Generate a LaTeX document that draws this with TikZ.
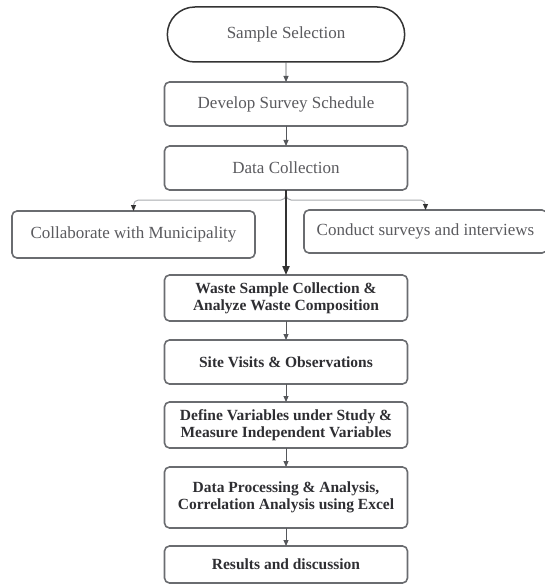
\documentclass[tikz,border=0pt]{standalone}
\usepackage{fontspec}
\setmainfont{Liberation Serif}
\usepackage{tikz}
\usetikzlibrary{arrows.meta,positioning,shapes.misc}
\definecolor{boxline}{HTML}{6A6C70}
\definecolor{startline}{HTML}{333333}
\definecolor{lighttext}{HTML}{5A5A5E}
\definecolor{darktext}{HTML}{2E2E32}
\definecolor{arrowline}{HTML}{55575B}
\definecolor{branchline}{HTML}{A8AAAE}
\tikzset{
  >=Stealth,
  every picture/.append style={line width=0.6pt},
}

\begin{document}
\begin{tikzpicture}[x=1pt, y=-1pt,
  start/.style={rounded rectangle, draw=startline, line width=1.5pt, outer sep=0pt,
                minimum width=244pt, minimum height=55pt,
                font=\fontsize{17}{19}\selectfont, text=lighttext},
  stage/.style={rectangle, rounded corners=5pt, draw=boxline, line width=1.6pt,
                minimum width=243pt, minimum height=44pt, inner sep=3pt, outer sep=0pt,
                align=center, font=\fontsize{17}{19}\selectfont, text=lighttext},
  work/.style={stage, font=\bfseries\fontsize{15.5}{17}\selectfont, text=darktext},
  arrow/.style={-{Triangle[length=6pt,width=5pt]}, line width=0.9pt, draw=arrowline},
  mainarrow/.style={-{Triangle[length=9pt,width=7pt]}, line width=2pt, draw=startline},
  branch/.style={-{Triangle[length=6pt,width=5pt,color=startline]}, line width=1pt,
                 draw=branchline, rounded corners=5pt},
  node distance=19pt
]
\useasboundingbox (0,0) rectangle (544,585);

% Main column
\node[start] (sample) at (286,34.5) {Sample Selection};
\node[stage, below=20pt of sample] (schedule) {Develop Survey Schedule};
\node[stage, below=20pt of schedule] (collect) {Data Collection};

% Side tasks
\node[stage, minimum height=47pt] (municipality) at (133.5,234.5) {Collaborate with Municipality};
\node[stage, minimum height=43pt] (surveys) at (425.5,231.5) {Conduct surveys and interviews};

% Field work and analysis
\node[work, minimum height=46pt, below=85pt of collect] (waste) {Waste Sample Collection \&\\Analyze Waste Composition};
\node[work, below=of waste] (visits) {Site Visits \& Observations};
\node[work, minimum height=46pt, below=18pt of visits] (variables) {Define Variables under Study \&\\Measure Independent Variables};
\node[work, minimum height=61pt, below=of variables] (processing) {Data Processing \& Analysis,\\Correlation Analysis using Excel};
\node[work, minimum height=37pt, below=18pt of processing] (results) {Results and discussion};

% Flow arrows
\draw[arrow] (sample) -- (schedule);
\draw[arrow] (schedule) -- (collect);
\draw[branch] (collect.south) -- ++(0,10) -| (municipality.north);
\draw[branch] (collect.south) -- ++(0,10) -| (surveys.north);
\draw[mainarrow] (collect) -- (waste);
\draw[arrow] (waste) -- (visits);
\draw[arrow] (visits) -- (variables);
\draw[arrow] (variables) -- (processing);
\draw[arrow] (processing) -- (results);

\end{tikzpicture}
\end{document}
